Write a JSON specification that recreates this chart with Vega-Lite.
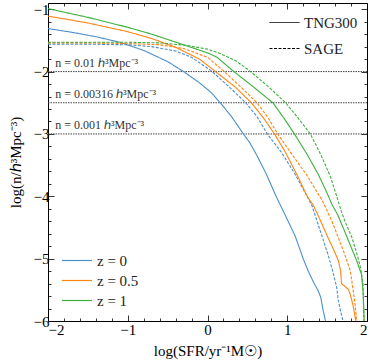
{
  "$schema": "https://vega.github.io/schema/vega-lite/v6.json",
  "width": 319,
  "height": 318,
  "autosize": {"type": "none"},
  "padding": {"left": 48, "top": 3, "right": 7, "bottom": 43},
  "background": "white",
  "config": {
    "view": {"stroke": "black", "strokeWidth": 1},
    "font": "Liberation Serif",
    "axis": {"grid": false, "domain": false, "tickColor": "black", "tickWidth": 0.8, "labelFont": "Liberation Serif", "labelFontSize": 15, "labelColor": "black", "titleFont": "Liberation Serif", "titleFontSize": 15, "titleFontWeight": "normal", "titleColor": "black"},
    "legend": {"symbolType": "stroke", "symbolSize": 900, "symbolStrokeWidth": 1.2, "labelFont": "Liberation Serif", "labelFontSize": 15, "labelColor": "#222", "padding": 0, "labelOffset": 4}
  },
  "datasets": {
    "curves": [
      {"x": -2, "y": -1.31, "z": "z = 0", "sim": "TNG300"},
      {"x": -1.7, "y": -1.37, "z": "z = 0", "sim": "TNG300"},
      {"x": -1.4, "y": -1.44, "z": "z = 0", "sim": "TNG300"},
      {"x": -1.1, "y": -1.53, "z": "z = 0", "sim": "TNG300"},
      {"x": -0.8, "y": -1.66, "z": "z = 0", "sim": "TNG300"},
      {"x": -0.5, "y": -1.84, "z": "z = 0", "sim": "TNG300"},
      {"x": -0.3, "y": -2.0, "z": "z = 0", "sim": "TNG300"},
      {"x": -0.1, "y": -2.18, "z": "z = 0", "sim": "TNG300"},
      {"x": 0.05, "y": -2.34, "z": "z = 0", "sim": "TNG300"},
      {"x": 0.16, "y": -2.5, "z": "z = 0", "sim": "TNG300"},
      {"x": 0.3, "y": -2.72, "z": "z = 0", "sim": "TNG300"},
      {"x": 0.45, "y": -3.0, "z": "z = 0", "sim": "TNG300"},
      {"x": 0.53, "y": -3.14, "z": "z = 0", "sim": "TNG300"},
      {"x": 0.63, "y": -3.37, "z": "z = 0", "sim": "TNG300"},
      {"x": 0.74, "y": -3.65, "z": "z = 0", "sim": "TNG300"},
      {"x": 0.86, "y": -4.0, "z": "z = 0", "sim": "TNG300"},
      {"x": 0.97, "y": -4.29, "z": "z = 0", "sim": "TNG300"},
      {"x": 1.1, "y": -4.64, "z": "z = 0", "sim": "TNG300"},
      {"x": 1.2, "y": -5.0, "z": "z = 0", "sim": "TNG300"},
      {"x": 1.26, "y": -5.19, "z": "z = 0", "sim": "TNG300"},
      {"x": 1.33, "y": -5.38, "z": "z = 0", "sim": "TNG300"},
      {"x": 1.39, "y": -5.52, "z": "z = 0", "sim": "TNG300"},
      {"x": 1.42, "y": -5.62, "z": "z = 0", "sim": "TNG300"},
      {"x": 1.45, "y": -5.83, "z": "z = 0", "sim": "TNG300"},
      {"x": 1.48, "y": -6.0, "z": "z = 0", "sim": "TNG300"},

      {"x": -2, "y": -1.56, "z": "z = 0", "sim": "SAGE"},
      {"x": -1.5, "y": -1.56, "z": "z = 0", "sim": "SAGE"},
      {"x": -1, "y": -1.57, "z": "z = 0", "sim": "SAGE"},
      {"x": -0.7, "y": -1.6, "z": "z = 0", "sim": "SAGE"},
      {"x": -0.4, "y": -1.67, "z": "z = 0", "sim": "SAGE"},
      {"x": -0.2, "y": -1.77, "z": "z = 0", "sim": "SAGE"},
      {"x": 0.06, "y": -2.0, "z": "z = 0", "sim": "SAGE"},
      {"x": 0.25, "y": -2.22, "z": "z = 0", "sim": "SAGE"},
      {"x": 0.48, "y": -2.5, "z": "z = 0", "sim": "SAGE"},
      {"x": 0.62, "y": -2.72, "z": "z = 0", "sim": "SAGE"},
      {"x": 0.75, "y": -3.0, "z": "z = 0", "sim": "SAGE"},
      {"x": 0.93, "y": -3.3, "z": "z = 0", "sim": "SAGE"},
      {"x": 1.1, "y": -3.65, "z": "z = 0", "sim": "SAGE"},
      {"x": 1.27, "y": -4.05, "z": "z = 0", "sim": "SAGE"},
      {"x": 1.31, "y": -4.15, "z": "z = 0", "sim": "SAGE"},
      {"x": 1.4, "y": -4.5, "z": "z = 0", "sim": "SAGE"},
      {"x": 1.51, "y": -4.93, "z": "z = 0", "sim": "SAGE"},
      {"x": 1.57, "y": -5.2, "z": "z = 0", "sim": "SAGE"},
      {"x": 1.62, "y": -5.46, "z": "z = 0", "sim": "SAGE"},
      {"x": 1.64, "y": -5.67, "z": "z = 0", "sim": "SAGE"},
      {"x": 1.67, "y": -5.85, "z": "z = 0", "sim": "SAGE"},
      {"x": 1.7, "y": -6.0, "z": "z = 0", "sim": "SAGE"},

      {"x": -2, "y": -1.11, "z": "z = 0.5", "sim": "TNG300"},
      {"x": -1.5, "y": -1.22, "z": "z = 0.5", "sim": "TNG300"},
      {"x": -1, "y": -1.36, "z": "z = 0.5", "sim": "TNG300"},
      {"x": -0.7, "y": -1.47, "z": "z = 0.5", "sim": "TNG300"},
      {"x": -0.4, "y": -1.61, "z": "z = 0.5", "sim": "TNG300"},
      {"x": -0.1, "y": -1.8, "z": "z = 0.5", "sim": "TNG300"},
      {"x": 0.1, "y": -2.0, "z": "z = 0.5", "sim": "TNG300"},
      {"x": 0.35, "y": -2.25, "z": "z = 0.5", "sim": "TNG300"},
      {"x": 0.55, "y": -2.5, "z": "z = 0.5", "sim": "TNG300"},
      {"x": 0.7, "y": -2.74, "z": "z = 0.5", "sim": "TNG300"},
      {"x": 0.84, "y": -3.0, "z": "z = 0.5", "sim": "TNG300"},
      {"x": 0.98, "y": -3.3, "z": "z = 0.5", "sim": "TNG300"},
      {"x": 1.12, "y": -3.65, "z": "z = 0.5", "sim": "TNG300"},
      {"x": 1.25, "y": -4.0, "z": "z = 0.5", "sim": "TNG300"},
      {"x": 1.33, "y": -4.15, "z": "z = 0.5", "sim": "TNG300"},
      {"x": 1.42, "y": -4.4, "z": "z = 0.5", "sim": "TNG300"},
      {"x": 1.51, "y": -4.66, "z": "z = 0.5", "sim": "TNG300"},
      {"x": 1.58, "y": -4.85, "z": "z = 0.5", "sim": "TNG300"},
      {"x": 1.64, "y": -5.03, "z": "z = 0.5", "sim": "TNG300"},
      {"x": 1.67, "y": -5.2, "z": "z = 0.5", "sim": "TNG300"},
      {"x": 1.68, "y": -5.4, "z": "z = 0.5", "sim": "TNG300"},
      {"x": 1.73, "y": -5.45, "z": "z = 0.5", "sim": "TNG300"},
      {"x": 1.77, "y": -5.5, "z": "z = 0.5", "sim": "TNG300"},
      {"x": 1.8, "y": -5.62, "z": "z = 0.5", "sim": "TNG300"},
      {"x": 1.83, "y": -5.78, "z": "z = 0.5", "sim": "TNG300"},
      {"x": 1.86, "y": -6.0, "z": "z = 0.5", "sim": "TNG300"},

      {"x": -2, "y": -1.54, "z": "z = 0.5", "sim": "SAGE"},
      {"x": -1.5, "y": -1.54, "z": "z = 0.5", "sim": "SAGE"},
      {"x": -1, "y": -1.55, "z": "z = 0.5", "sim": "SAGE"},
      {"x": -0.6, "y": -1.57, "z": "z = 0.5", "sim": "SAGE"},
      {"x": -0.3, "y": -1.63, "z": "z = 0.5", "sim": "SAGE"},
      {"x": 0, "y": -1.77, "z": "z = 0.5", "sim": "SAGE"},
      {"x": 0.21, "y": -2.0, "z": "z = 0.5", "sim": "SAGE"},
      {"x": 0.42, "y": -2.25, "z": "z = 0.5", "sim": "SAGE"},
      {"x": 0.62, "y": -2.5, "z": "z = 0.5", "sim": "SAGE"},
      {"x": 0.76, "y": -2.74, "z": "z = 0.5", "sim": "SAGE"},
      {"x": 0.88, "y": -3.0, "z": "z = 0.5", "sim": "SAGE"},
      {"x": 1.06, "y": -3.33, "z": "z = 0.5", "sim": "SAGE"},
      {"x": 1.24, "y": -3.65, "z": "z = 0.5", "sim": "SAGE"},
      {"x": 1.43, "y": -4.05, "z": "z = 0.5", "sim": "SAGE"},
      {"x": 1.47, "y": -4.15, "z": "z = 0.5", "sim": "SAGE"},
      {"x": 1.56, "y": -4.4, "z": "z = 0.5", "sim": "SAGE"},
      {"x": 1.64, "y": -4.66, "z": "z = 0.5", "sim": "SAGE"},
      {"x": 1.72, "y": -4.93, "z": "z = 0.5", "sim": "SAGE"},
      {"x": 1.79, "y": -5.19, "z": "z = 0.5", "sim": "SAGE"},
      {"x": 1.82, "y": -5.45, "z": "z = 0.5", "sim": "SAGE"},
      {"x": 1.85, "y": -5.73, "z": "z = 0.5", "sim": "SAGE"},
      {"x": 1.87, "y": -6.0, "z": "z = 0.5", "sim": "SAGE"},

      {"x": -2, "y": -0.99, "z": "z = 1", "sim": "TNG300"},
      {"x": -1.5, "y": -1.13, "z": "z = 1", "sim": "TNG300"},
      {"x": -1, "y": -1.29, "z": "z = 1", "sim": "TNG300"},
      {"x": -0.7, "y": -1.4, "z": "z = 1", "sim": "TNG300"},
      {"x": -0.3, "y": -1.57, "z": "z = 1", "sim": "TNG300"},
      {"x": 0, "y": -1.7, "z": "z = 1", "sim": "TNG300"},
      {"x": 0.12, "y": -1.77, "z": "z = 1", "sim": "TNG300"},
      {"x": 0.33, "y": -2.0, "z": "z = 1", "sim": "TNG300"},
      {"x": 0.58, "y": -2.25, "z": "z = 1", "sim": "TNG300"},
      {"x": 0.82, "y": -2.5, "z": "z = 1", "sim": "TNG300"},
      {"x": 0.96, "y": -2.75, "z": "z = 1", "sim": "TNG300"},
      {"x": 1.09, "y": -3.0, "z": "z = 1", "sim": "TNG300"},
      {"x": 1.25, "y": -3.33, "z": "z = 1", "sim": "TNG300"},
      {"x": 1.39, "y": -3.65, "z": "z = 1", "sim": "TNG300"},
      {"x": 1.5, "y": -3.95, "z": "z = 1", "sim": "TNG300"},
      {"x": 1.56, "y": -4.13, "z": "z = 1", "sim": "TNG300"},
      {"x": 1.63, "y": -4.29, "z": "z = 1", "sim": "TNG300"},
      {"x": 1.7, "y": -4.5, "z": "z = 1", "sim": "TNG300"},
      {"x": 1.77, "y": -4.72, "z": "z = 1", "sim": "TNG300"},
      {"x": 1.87, "y": -5.03, "z": "z = 1", "sim": "TNG300"},
      {"x": 1.93, "y": -5.25, "z": "z = 1", "sim": "TNG300"},
      {"x": 1.95, "y": -5.51, "z": "z = 1", "sim": "TNG300"},
      {"x": 1.96, "y": -5.8, "z": "z = 1", "sim": "TNG300"},
      {"x": 1.965, "y": -6.0, "z": "z = 1", "sim": "TNG300"},

      {"x": -2, "y": -1.53, "z": "z = 1", "sim": "SAGE"},
      {"x": -1, "y": -1.53, "z": "z = 1", "sim": "SAGE"},
      {"x": -0.6, "y": -1.54, "z": "z = 1", "sim": "SAGE"},
      {"x": -0.26, "y": -1.58, "z": "z = 1", "sim": "SAGE"},
      {"x": 0, "y": -1.64, "z": "z = 1", "sim": "SAGE"},
      {"x": 0.16, "y": -1.71, "z": "z = 1", "sim": "SAGE"},
      {"x": 0.36, "y": -1.83, "z": "z = 1", "sim": "SAGE"},
      {"x": 0.54, "y": -2.0, "z": "z = 1", "sim": "SAGE"},
      {"x": 0.77, "y": -2.25, "z": "z = 1", "sim": "SAGE"},
      {"x": 0.98, "y": -2.5, "z": "z = 1", "sim": "SAGE"},
      {"x": 1.14, "y": -2.75, "z": "z = 1", "sim": "SAGE"},
      {"x": 1.29, "y": -3.0, "z": "z = 1", "sim": "SAGE"},
      {"x": 1.42, "y": -3.33, "z": "z = 1", "sim": "SAGE"},
      {"x": 1.54, "y": -3.68, "z": "z = 1", "sim": "SAGE"},
      {"x": 1.62, "y": -4.0, "z": "z = 1", "sim": "SAGE"},
      {"x": 1.68, "y": -4.25, "z": "z = 1", "sim": "SAGE"},
      {"x": 1.74, "y": -4.45, "z": "z = 1", "sim": "SAGE"},
      {"x": 1.81, "y": -4.66, "z": "z = 1", "sim": "SAGE"},
      {"x": 1.88, "y": -4.95, "z": "z = 1", "sim": "SAGE"},
      {"x": 1.92, "y": -5.15, "z": "z = 1", "sim": "SAGE"},
      {"x": 1.95, "y": -5.4, "z": "z = 1", "sim": "SAGE"},
      {"x": 1.955, "y": -5.7, "z": "z = 1", "sim": "SAGE"},
      {"x": 1.96, "y": -6.0, "z": "z = 1", "sim": "SAGE"}
    ],
    "levels": [
      {"y": -2, "label": "n = 0.01 ℎ³Mpc⁻³"},
      {"y": -2.5, "label": "n = 0.00316 ℎ³Mpc⁻³"},
      {"y": -3, "label": "n = 0.001 ℎ³Mpc⁻³"}
    ]
  },
  "resolve": {"axis": {"x": "independent", "y": "independent"}},
  "layer": [
    {
      "data": {"name": "levels"},
      "mark": {"type": "rule", "color": "#444", "strokeWidth": 1, "strokeDash": [1.5, 1]},
      "encoding": {
        "y": {"field": "y", "type": "quantitative", "scale": {"domain": [-6, -0.9], "nice": false, "zero": false},
              "axis": {"orient": "left", "values": [-5.8,-5.6,-5.4,-5.2,-4.8,-4.6,-4.4,-4.2,-3.8,-3.6,-3.4,-3.2,-2.8,-2.6,-2.4,-2.2,-1.8,-1.6,-1.4,-1.2], "labels": false, "tickSize": -3, "title": null}},
        "x": {"datum": -2, "type": "quantitative", "scale": {"domain": [-2, 2], "nice": false, "zero": false},
              "axis": {"orient": "bottom", "values": [-1.8,-1.6,-1.4,-1.2,-0.8,-0.6,-0.4,-0.2,0.2,0.4,0.6,0.8,1.2,1.4,1.6,1.8], "labels": false, "tickSize": -3, "title": null}},
        "x2": {"datum": 2}
      }
    },
    {
      "data": {"name": "curves"},
      "mark": {"type": "line", "strokeWidth": 1.1, "clip": true},
      "encoding": {
        "x": {"field": "x", "type": "quantitative",
              "axis": {"orient": "bottom", "values": [-2, -1, 0, 1, 2], "tickSize": -6, "labelPadding": 7, "title": "log(SFR/yr⁻¹M☉)", "titlePadding": 6}},
        "y": {"field": "y", "type": "quantitative",
              "axis": {"orient": "left", "values": [-6, -5, -4, -3, -2, -1], "tickSize": -6, "labelPadding": 5, "title": "log(n/ℎ³Mpc⁻³)", "titlePadding": 10}},
        "color": {"field": "z", "type": "nominal",
                  "scale": {"domain": ["z = 0", "z = 0.5", "z = 1"], "range": ["#4a90cd", "#ff8412", "#3cb03c"]},
                  "legend": {"orient": "none", "legendX": 20.5, "legendY": 249, "title": null, "rowPadding": 3, "symbolType": "M-2,0H2", "symbolSize": 225, "labelOffset": 11.5}},
        "strokeDash": {"field": "sim", "type": "nominal",
                  "scale": {"domain": ["TNG300", "SAGE"], "range": [[1, 0], [3, 1.5]]},
                  "legend": {"orient": "none", "legendX": 221, "legendY": 4, "title": null, "rowPadding": 2, "symbolStrokeColor": "black", "symbolStrokeWidth": 1}},
        "detail": {"field": "sim"}
      }
    },
    {
      "data": {"name": "levels"},
      "mark": {"type": "text", "align": "left", "baseline": "alphabetic", "dy": -5, "fontSize": 12, "color": "#333", "font": "Liberation Serif"},
      "encoding": {
        "x": {"datum": -1.91, "type": "quantitative",
              "axis": {"orient": "top", "values": [-2, -1, 0, 1, 2], "labels": false, "tickSize": -6, "title": null}},
        "y": {"field": "y", "type": "quantitative",
              "axis": {"orient": "right", "values": [-6, -5, -4, -3, -2, -1], "labels": false, "tickSize": -6, "title": null}},
        "text": {"field": "label"}
      }
    },
    {
      "data": {"name": "levels"},
      "mark": {"type": "rule", "strokeOpacity": 0},
      "encoding": {
        "y": {"field": "y", "type": "quantitative",
              "axis": {"orient": "right", "values": [-5.8,-5.6,-5.4,-5.2,-4.8,-4.6,-4.4,-4.2,-3.8,-3.6,-3.4,-3.2,-2.8,-2.6,-2.4,-2.2,-1.8,-1.6,-1.4,-1.2], "labels": false, "tickSize": -3, "title": null}},
        "x": {"datum": -2, "type": "quantitative",
              "axis": {"orient": "top", "values": [-1.8,-1.6,-1.4,-1.2,-0.8,-0.6,-0.4,-0.2,0.2,0.4,0.6,0.8,1.2,1.4,1.6,1.8], "labels": false, "tickSize": -3, "title": null}},
        "x2": {"datum": 2}
      }
    }
  ]
}
